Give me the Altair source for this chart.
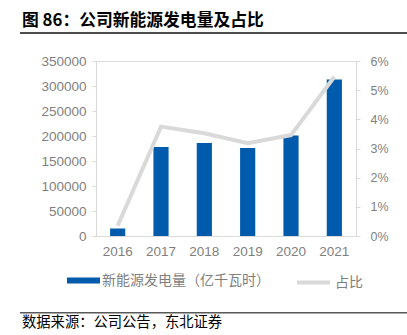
import altair as alt
import pandas as pd

years = ["2016", "2017", "2018", "2019", "2020", "2021"]
generation = [15000, 178000, 186000, 176000, 201000, 313000]
share = [0.0035, 0.0375, 0.0352, 0.0318, 0.0346, 0.0546]
left_ticks = [0, 50000, 100000, 150000, 200000, 250000, 300000, 350000]
right_ticks = [0, 0.01, 0.02, 0.03, 0.04, 0.05, 0.06]
bar_name = "新能源发电量（亿千瓦时）"
line_name = "占比"
title_text = "图 86：公司新能源发电量及占比"
source_text = "数据来源：公司公告，东北证券"

df = pd.DataFrame({"year": years, "gen": generation, "share": share,
                   "s1": [bar_name] * 6, "s2": [line_name] * 6})

BLUE = "#005BAC"
GRAY_LINE = "#D9D9D9"
LABEL = "#7F7F7F"
FONT = "Liberation Sans"
CJK = "Noto Sans CJK SC"

xenc = alt.X("year:N", title=None, sort=years,
             scale=alt.Scale(paddingInner=0.65, paddingOuter=0.325),
             axis=alt.Axis(labelAngle=0, ticks=False, domainColor=GRAY_LINE,
                           labelColor=LABEL, labelFontSize=13.5, labelFont=FONT,
                           labelPadding=8))

bars = alt.Chart(df).mark_bar(color=BLUE).encode(
    x=xenc,
    y=alt.Y("gen:Q", title=None, scale=alt.Scale(domain=[0, 350000], nice=False),
            axis=alt.Axis(values=left_ticks, format="d", orient="left", grid=False,
                          domainColor=GRAY_LINE, tickColor=GRAY_LINE, tickSize=4,
                          labelColor=LABEL, labelFontSize=13.5, labelFont=FONT,
                          labelPadding=6)),
    fill=alt.Fill("s1:N", scale=alt.Scale(domain=[bar_name], range=[BLUE]),
                  legend=alt.Legend(title=None, orient="none", legendX=-29, legendY=203,
                                    symbolType="M-1,-0.18H1V0.18H-1Z", symbolSize=1089,
                                    symbolStrokeWidth=0, labelFont=CJK, labelFontSize=14,
                                    labelColor=LABEL, labelOffset=2, labelLimit=400,
                                    padding=0)),
)

line = alt.Chart(df).mark_line(strokeWidth=4, strokeCap="butt", strokeJoin="miter").encode(
    x=alt.X("year:N", sort=years),
    y=alt.Y("share:Q", title=None, scale=alt.Scale(domain=[0, 0.06], nice=False),
            axis=alt.Axis(values=right_ticks, format=".0%", orient="right", grid=False,
                          domainColor=GRAY_LINE, tickColor=GRAY_LINE, tickSize=4,
                          labelColor=LABEL, labelFontSize=12.5, labelFont=FONT,
                          labelPadding=10)),
    stroke=alt.Stroke("s2:N", scale=alt.Scale(domain=[line_name], range=[GRAY_LINE]),
                      legend=alt.Legend(title=None, orient="none", legendX=199, legendY=203,
                                        symbolType="stroke", symbolSize=1089,
                                        symbolStrokeWidth=4, labelFont=CJK, labelFontSize=14,
                                        labelColor=LABEL, labelOffset=3, labelLimit=200,
                                        padding=0)),
)

one = pd.DataFrame({"k": [1]})

title = alt.Chart(one).mark_text(align="left", baseline="middle", font=CJK,
                                 fontSize=16.8, fontWeight="bold", color="#000000").encode(
    x=alt.value(-74), y=alt.value(-40), text=alt.value(title_text))
title_rule = alt.Chart(one).mark_rule(color="#4D4D4D", strokeWidth=2).encode(
    x=alt.value(-76), x2=alt.value(311), y=alt.value(-28))
foot_rule = alt.Chart(one).mark_rule(color="#595959", strokeWidth=1.5).encode(
    x=alt.value(-76), x2=alt.value(311), y=alt.value(251.7))
source = alt.Chart(one).mark_text(align="left", baseline="middle", font=CJK,
                                  fontSize=14.3, color="#000000").encode(
    x=alt.value(-74), y=alt.value(262), text=alt.value(source_text))

chart = alt.layer(bars, line, title, title_rule, foot_rule, source).resolve_scale(
    y="independent", fill="independent", stroke="independent"
).properties(
    width=260, height=175,
    autosize=alt.AutoSizeParams(type="none"),
    padding={"left": 96, "top": 61, "right": 51, "bottom": 99},
).configure_view(stroke=None).configure(background="white")

chart.save("out.html", embed_options={"renderer": "svg", "actions": False})
